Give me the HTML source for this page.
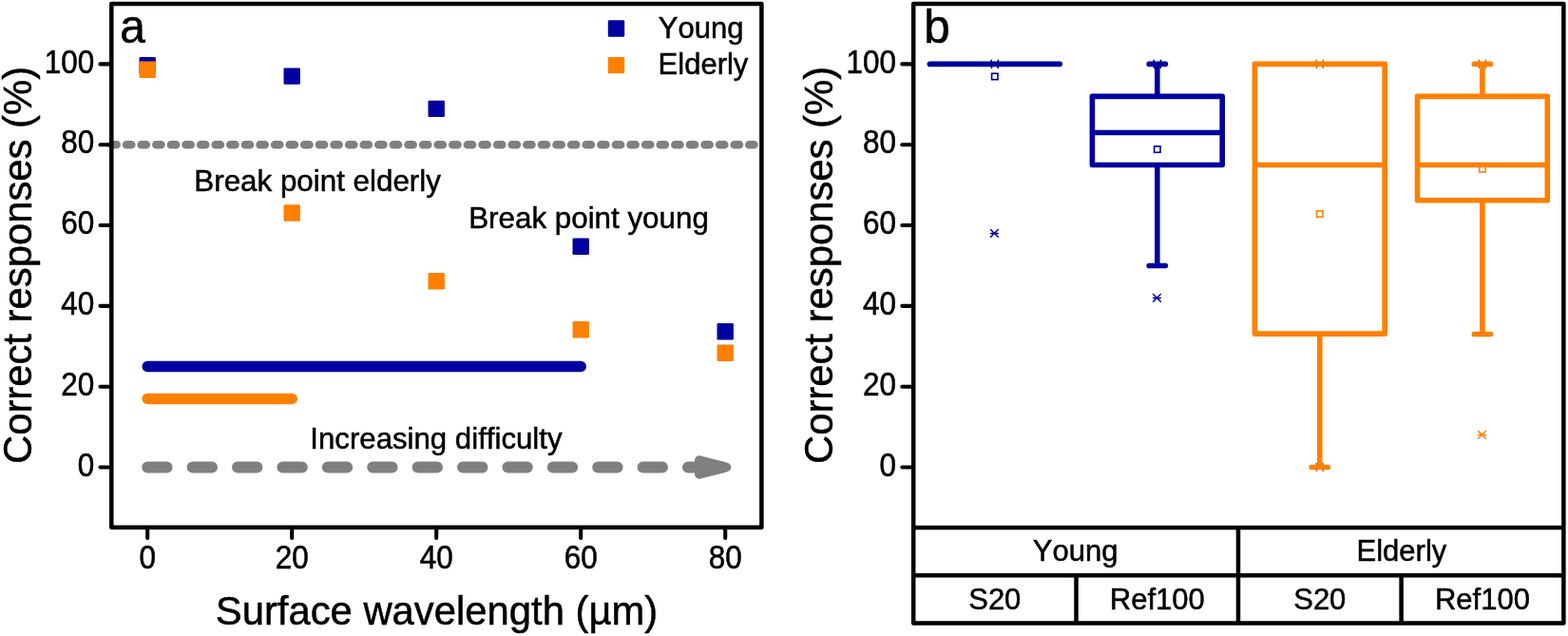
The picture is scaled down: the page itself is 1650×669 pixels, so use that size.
<!DOCTYPE html>
<html><head><meta charset="utf-8"><title>Figure</title>
<style>html,body{margin:0;padding:0;background:#fff;}svg{display:block;}text{font-family:"Liberation Sans",sans-serif;font-kerning:none;fill:#000;stroke:#000;stroke-width:0.5px;}</style>
</head><body>
<svg width="1650" height="669" viewBox="0 0 1650 669">
<rect x="0" y="0" width="1650" height="669" fill="#fff"/>
<line x1="117.5" y1="152.22" x2="797" y2="152.22" stroke="#808080" stroke-width="8.6" stroke-linecap="round" stroke-dasharray="5.2 10.4" />
<line x1="155.20" y1="491.50" x2="736" y2="491.50" stroke="#808080" stroke-width="12" stroke-linecap="round" stroke-dasharray="20.4 27" />
<polygon points="736,484.3 764.2,491.5 736,498.7" fill="#808080" stroke="#808080" stroke-width="10" stroke-linejoin="round"/>
<line x1="155.20" y1="385.48" x2="611.20" y2="385.48" stroke="#00009e" stroke-width="11.5" stroke-linecap="round"/>
<line x1="155.20" y1="419.40" x2="307.20" y2="419.40" stroke="#ff8000" stroke-width="11.5" stroke-linecap="round"/>
<rect x="146.50" y="60.00" width="17.4" height="17.4" rx="1.2" fill="#00009e"/>
<rect x="298.50" y="71.40" width="17.4" height="17.4" rx="1.2" fill="#00009e"/>
<rect x="450.50" y="105.70" width="17.4" height="17.4" rx="1.2" fill="#00009e"/>
<rect x="602.50" y="250.60" width="17.4" height="17.4" rx="1.2" fill="#00009e"/>
<rect x="754.50" y="340.00" width="17.4" height="17.4" rx="1.2" fill="#00009e"/>
<rect x="146.50" y="64.60" width="17.4" height="17.4" rx="1.2" fill="#ff8000"/>
<rect x="298.50" y="215.30" width="17.4" height="17.4" rx="1.2" fill="#ff8000"/>
<rect x="450.50" y="287.10" width="17.4" height="17.4" rx="1.2" fill="#ff8000"/>
<rect x="602.50" y="338.00" width="17.4" height="17.4" rx="1.2" fill="#ff8000"/>
<rect x="754.50" y="362.50" width="17.4" height="17.4" rx="1.2" fill="#ff8000"/>
<rect x="639.80" y="21.30" width="17.4" height="17.4" rx="1.2" fill="#00009e"/>
<rect x="639.80" y="59.90" width="17.4" height="17.4" rx="1.2" fill="#ff8000"/>
<path d="M117.3,4 H801.4 V554.8 H117.3 Z" fill="none" stroke="#000" stroke-width="4.5" stroke-linejoin="round"/>
<line x1="105.5" y1="491.50" x2="117" y2="491.50" stroke="#000" stroke-width="4.1" stroke-linecap="round"/>
<text transform="translate(99.3,500.70) scale(1,1.09)" font-size="31.5" text-anchor="end" >0</text>
<line x1="105.5" y1="406.68" x2="117" y2="406.68" stroke="#000" stroke-width="4.1" stroke-linecap="round"/>
<text transform="translate(99.3,415.88) scale(1,1.09)" font-size="31.5" text-anchor="end" >20</text>
<line x1="105.5" y1="321.86" x2="117" y2="321.86" stroke="#000" stroke-width="4.1" stroke-linecap="round"/>
<text transform="translate(99.3,331.06) scale(1,1.09)" font-size="31.5" text-anchor="end" >40</text>
<line x1="105.5" y1="237.04" x2="117" y2="237.04" stroke="#000" stroke-width="4.1" stroke-linecap="round"/>
<text transform="translate(99.3,246.24) scale(1,1.09)" font-size="31.5" text-anchor="end" >60</text>
<line x1="105.5" y1="152.22" x2="117" y2="152.22" stroke="#000" stroke-width="4.1" stroke-linecap="round"/>
<text transform="translate(99.3,161.42) scale(1,1.09)" font-size="31.5" text-anchor="end" >80</text>
<line x1="105.5" y1="67.40" x2="117" y2="67.40" stroke="#000" stroke-width="4.1" stroke-linecap="round"/>
<text transform="translate(99.3,76.60) scale(1,1.09)" font-size="31.5" text-anchor="end" >100</text>
<line x1="155.20" y1="555" x2="155.20" y2="566" stroke="#000" stroke-width="4.1" stroke-linecap="round"/>
<text transform="translate(155.20,597.8) scale(1,1.09)" font-size="31.5" text-anchor="middle" >0</text>
<line x1="307.20" y1="555" x2="307.20" y2="566" stroke="#000" stroke-width="4.1" stroke-linecap="round"/>
<text transform="translate(307.20,597.8) scale(1,1.09)" font-size="31.5" text-anchor="middle" >20</text>
<line x1="459.20" y1="555" x2="459.20" y2="566" stroke="#000" stroke-width="4.1" stroke-linecap="round"/>
<text transform="translate(459.20,597.8) scale(1,1.09)" font-size="31.5" text-anchor="middle" >40</text>
<line x1="611.20" y1="555" x2="611.20" y2="566" stroke="#000" stroke-width="4.1" stroke-linecap="round"/>
<text transform="translate(611.20,597.8) scale(1,1.09)" font-size="31.5" text-anchor="middle" >60</text>
<line x1="763.20" y1="555" x2="763.20" y2="566" stroke="#000" stroke-width="4.1" stroke-linecap="round"/>
<text transform="translate(763.20,597.8) scale(1,1.09)" font-size="31.5" text-anchor="middle" >80</text>
<text transform="translate(459.5,657.3) scale(1,1.02)" font-size="41.8" text-anchor="middle" >Surface wavelength (µm)</text>
<text transform="translate(32.8,279) rotate(-90) scale(1,1.02)" font-size="41.8" text-anchor="middle" >Correct responses (%)</text>
<text transform="translate(126.3,45.3) scale(1,1.05)" font-size="48" >a</text>
<text x="692.8" y="40" font-size="31" >Young</text>
<text x="692.6" y="78.2" font-size="31" >Elderly</text>
<text x="204.3" y="200.6" font-size="31.35" >Break point elderly</text>
<text x="493.2" y="240.2" font-size="31.35" >Break point young</text>
<text x="326.3" y="471.8" font-size="31.2" >Increasing difficulty</text>
<rect x="1043.60" y="77.30" width="6.4" height="6.4" fill="#fff" stroke="#00009e" stroke-width="1.6"/>
<path d="M1043.20,63.40 L1043.50,71.40 M1050.40,63.40 L1050.10,71.40" stroke="#00006a" stroke-width="1.6" fill="none" stroke-linecap="round"/>
<line x1="978.40" y1="67.40" x2="1115.20" y2="67.40" stroke="#00009e" stroke-width="5.6" stroke-linecap="round"/>
<path d="M1042.50,241.50 L1050.30,249.30 M1042.50,249.30 L1050.30,241.50 M1042.50,245.40 L1050.30,245.40" stroke="#00009e" stroke-width="1.5" fill="none" stroke-linecap="round"/>
<rect x="1214.60" y="153.90" width="6.4" height="6.4" fill="#fff" stroke="#00009e" stroke-width="1.6"/>
<path d="M1214.20,63.40 L1214.50,71.40 M1221.40,63.40 L1221.10,71.40" stroke="#00006a" stroke-width="1.6" fill="none" stroke-linecap="round"/>
<line x1="1217.80" y1="101.33" x2="1217.80" y2="67.40" stroke="#00009e" stroke-width="5.6"/>
<line x1="1209.20" y1="67.40" x2="1226.40" y2="67.40" stroke="#00009e" stroke-width="5.6" stroke-linecap="round"/>
<line x1="1217.80" y1="173.43" x2="1217.80" y2="279.45" stroke="#00009e" stroke-width="5.6"/>
<line x1="1209.20" y1="279.45" x2="1226.40" y2="279.45" stroke="#00009e" stroke-width="5.6" stroke-linecap="round"/>
<rect x="1149.40" y="101.33" width="136.80" height="72.10" fill="none" stroke="#00009e" stroke-width="5.6" stroke-linejoin="round"/>
<line x1="1149.40" y1="139.50" x2="1286.20" y2="139.50" stroke="#00009e" stroke-width="5.6"/>
<path d="M1213.50,309.50 L1221.30,317.30 M1213.50,317.30 L1221.30,309.50 M1213.50,313.40 L1221.30,313.40" stroke="#00009e" stroke-width="1.5" fill="none" stroke-linecap="round"/>
<rect x="1385.60" y="221.80" width="6.4" height="6.4" fill="#fff" stroke="#ff8000" stroke-width="1.6"/>
<path d="M1385.20,63.40 L1385.50,71.40 M1392.40,63.40 L1392.10,71.40" stroke="#b86a20" stroke-width="1.6" fill="none" stroke-linecap="round"/>
<path d="M1385.20,487.50 L1385.50,495.50 M1392.40,487.50 L1392.10,495.50" stroke="#b86a20" stroke-width="1.6" fill="none" stroke-linecap="round"/>
<line x1="1388.80" y1="351.12" x2="1388.80" y2="491.50" stroke="#ff8000" stroke-width="5.6"/>
<line x1="1380.20" y1="491.50" x2="1397.40" y2="491.50" stroke="#ff8000" stroke-width="5.6" stroke-linecap="round"/>
<rect x="1320.40" y="67.40" width="136.80" height="283.72" fill="none" stroke="#ff8000" stroke-width="5.6" stroke-linejoin="round"/>
<line x1="1320.40" y1="173.43" x2="1457.20" y2="173.43" stroke="#ff8000" stroke-width="5.6"/>
<rect x="1556.70" y="174.60" width="6.4" height="6.4" fill="#fff" stroke="#ff8000" stroke-width="1.6"/>
<path d="M1556.30,63.40 L1556.60,71.40 M1563.50,63.40 L1563.20,71.40" stroke="#b86a20" stroke-width="1.6" fill="none" stroke-linecap="round"/>
<line x1="1559.90" y1="101.33" x2="1559.90" y2="67.40" stroke="#ff8000" stroke-width="5.6"/>
<line x1="1551.30" y1="67.40" x2="1568.50" y2="67.40" stroke="#ff8000" stroke-width="5.6" stroke-linecap="round"/>
<line x1="1559.90" y1="210.75" x2="1559.90" y2="351.55" stroke="#ff8000" stroke-width="5.6"/>
<line x1="1551.30" y1="351.55" x2="1568.50" y2="351.55" stroke="#ff8000" stroke-width="5.6" stroke-linecap="round"/>
<rect x="1491.50" y="101.33" width="136.80" height="109.42" fill="none" stroke="#ff8000" stroke-width="5.6" stroke-linejoin="round"/>
<line x1="1491.50" y1="173.43" x2="1628.30" y2="173.43" stroke="#ff8000" stroke-width="5.6"/>
<path d="M1555.60,453.50 L1563.40,461.30 M1555.60,461.30 L1563.40,453.50 M1555.60,457.40 L1563.40,457.40" stroke="#ff8000" stroke-width="1.5" fill="none" stroke-linecap="round"/>
<path d="M961.2,3.9 H1645.4 V655.5 H961.2 Z" fill="none" stroke="#000" stroke-width="4.5" stroke-linejoin="round"/>
<line x1="961.2" y1="555" x2="1645.4" y2="555" stroke="#000" stroke-width="4.5"/>
<line x1="961.2" y1="605.3" x2="1645.4" y2="605.3" stroke="#000" stroke-width="4.5"/>
<line x1="1303" y1="555" x2="1303" y2="655.5" stroke="#000" stroke-width="4.5"/>
<line x1="1132.5" y1="605.3" x2="1132.5" y2="655.5" stroke="#000" stroke-width="4.5"/>
<line x1="1474.6" y1="605.3" x2="1474.6" y2="655.5" stroke="#000" stroke-width="4.5"/>
<line x1="949.3" y1="491.50" x2="961" y2="491.50" stroke="#000" stroke-width="4.1" stroke-linecap="round"/>
<text transform="translate(943,500.70) scale(1,1.09)" font-size="31.5" text-anchor="end" >0</text>
<line x1="949.3" y1="406.68" x2="961" y2="406.68" stroke="#000" stroke-width="4.1" stroke-linecap="round"/>
<text transform="translate(943,415.88) scale(1,1.09)" font-size="31.5" text-anchor="end" >20</text>
<line x1="949.3" y1="321.86" x2="961" y2="321.86" stroke="#000" stroke-width="4.1" stroke-linecap="round"/>
<text transform="translate(943,331.06) scale(1,1.09)" font-size="31.5" text-anchor="end" >40</text>
<line x1="949.3" y1="237.04" x2="961" y2="237.04" stroke="#000" stroke-width="4.1" stroke-linecap="round"/>
<text transform="translate(943,246.24) scale(1,1.09)" font-size="31.5" text-anchor="end" >60</text>
<line x1="949.3" y1="152.22" x2="961" y2="152.22" stroke="#000" stroke-width="4.1" stroke-linecap="round"/>
<text transform="translate(943,161.42) scale(1,1.09)" font-size="31.5" text-anchor="end" >80</text>
<line x1="949.3" y1="67.40" x2="961" y2="67.40" stroke="#000" stroke-width="4.1" stroke-linecap="round"/>
<text transform="translate(943,76.60) scale(1,1.09)" font-size="31.5" text-anchor="end" >100</text>
<text transform="translate(875.8,279) rotate(-90) scale(1,1.02)" font-size="41.8" text-anchor="middle" >Correct responses (%)</text>
<text transform="translate(972.3,45) scale(1.03,1.05)" font-size="48" >b</text>
<text x="1131.6" y="590.3" font-size="31" text-anchor="middle" >Young</text>
<text x="1474.9" y="590.3" font-size="31" text-anchor="middle" >Elderly</text>
<text x="1046.80" y="641" font-size="31" text-anchor="middle" >S20</text>
<text x="1217.80" y="641" font-size="31" text-anchor="middle" >Ref100</text>
<text x="1388.80" y="641" font-size="31" text-anchor="middle" >S20</text>
<text x="1559.90" y="641" font-size="31" text-anchor="middle" >Ref100</text>
</svg>
</body></html>
